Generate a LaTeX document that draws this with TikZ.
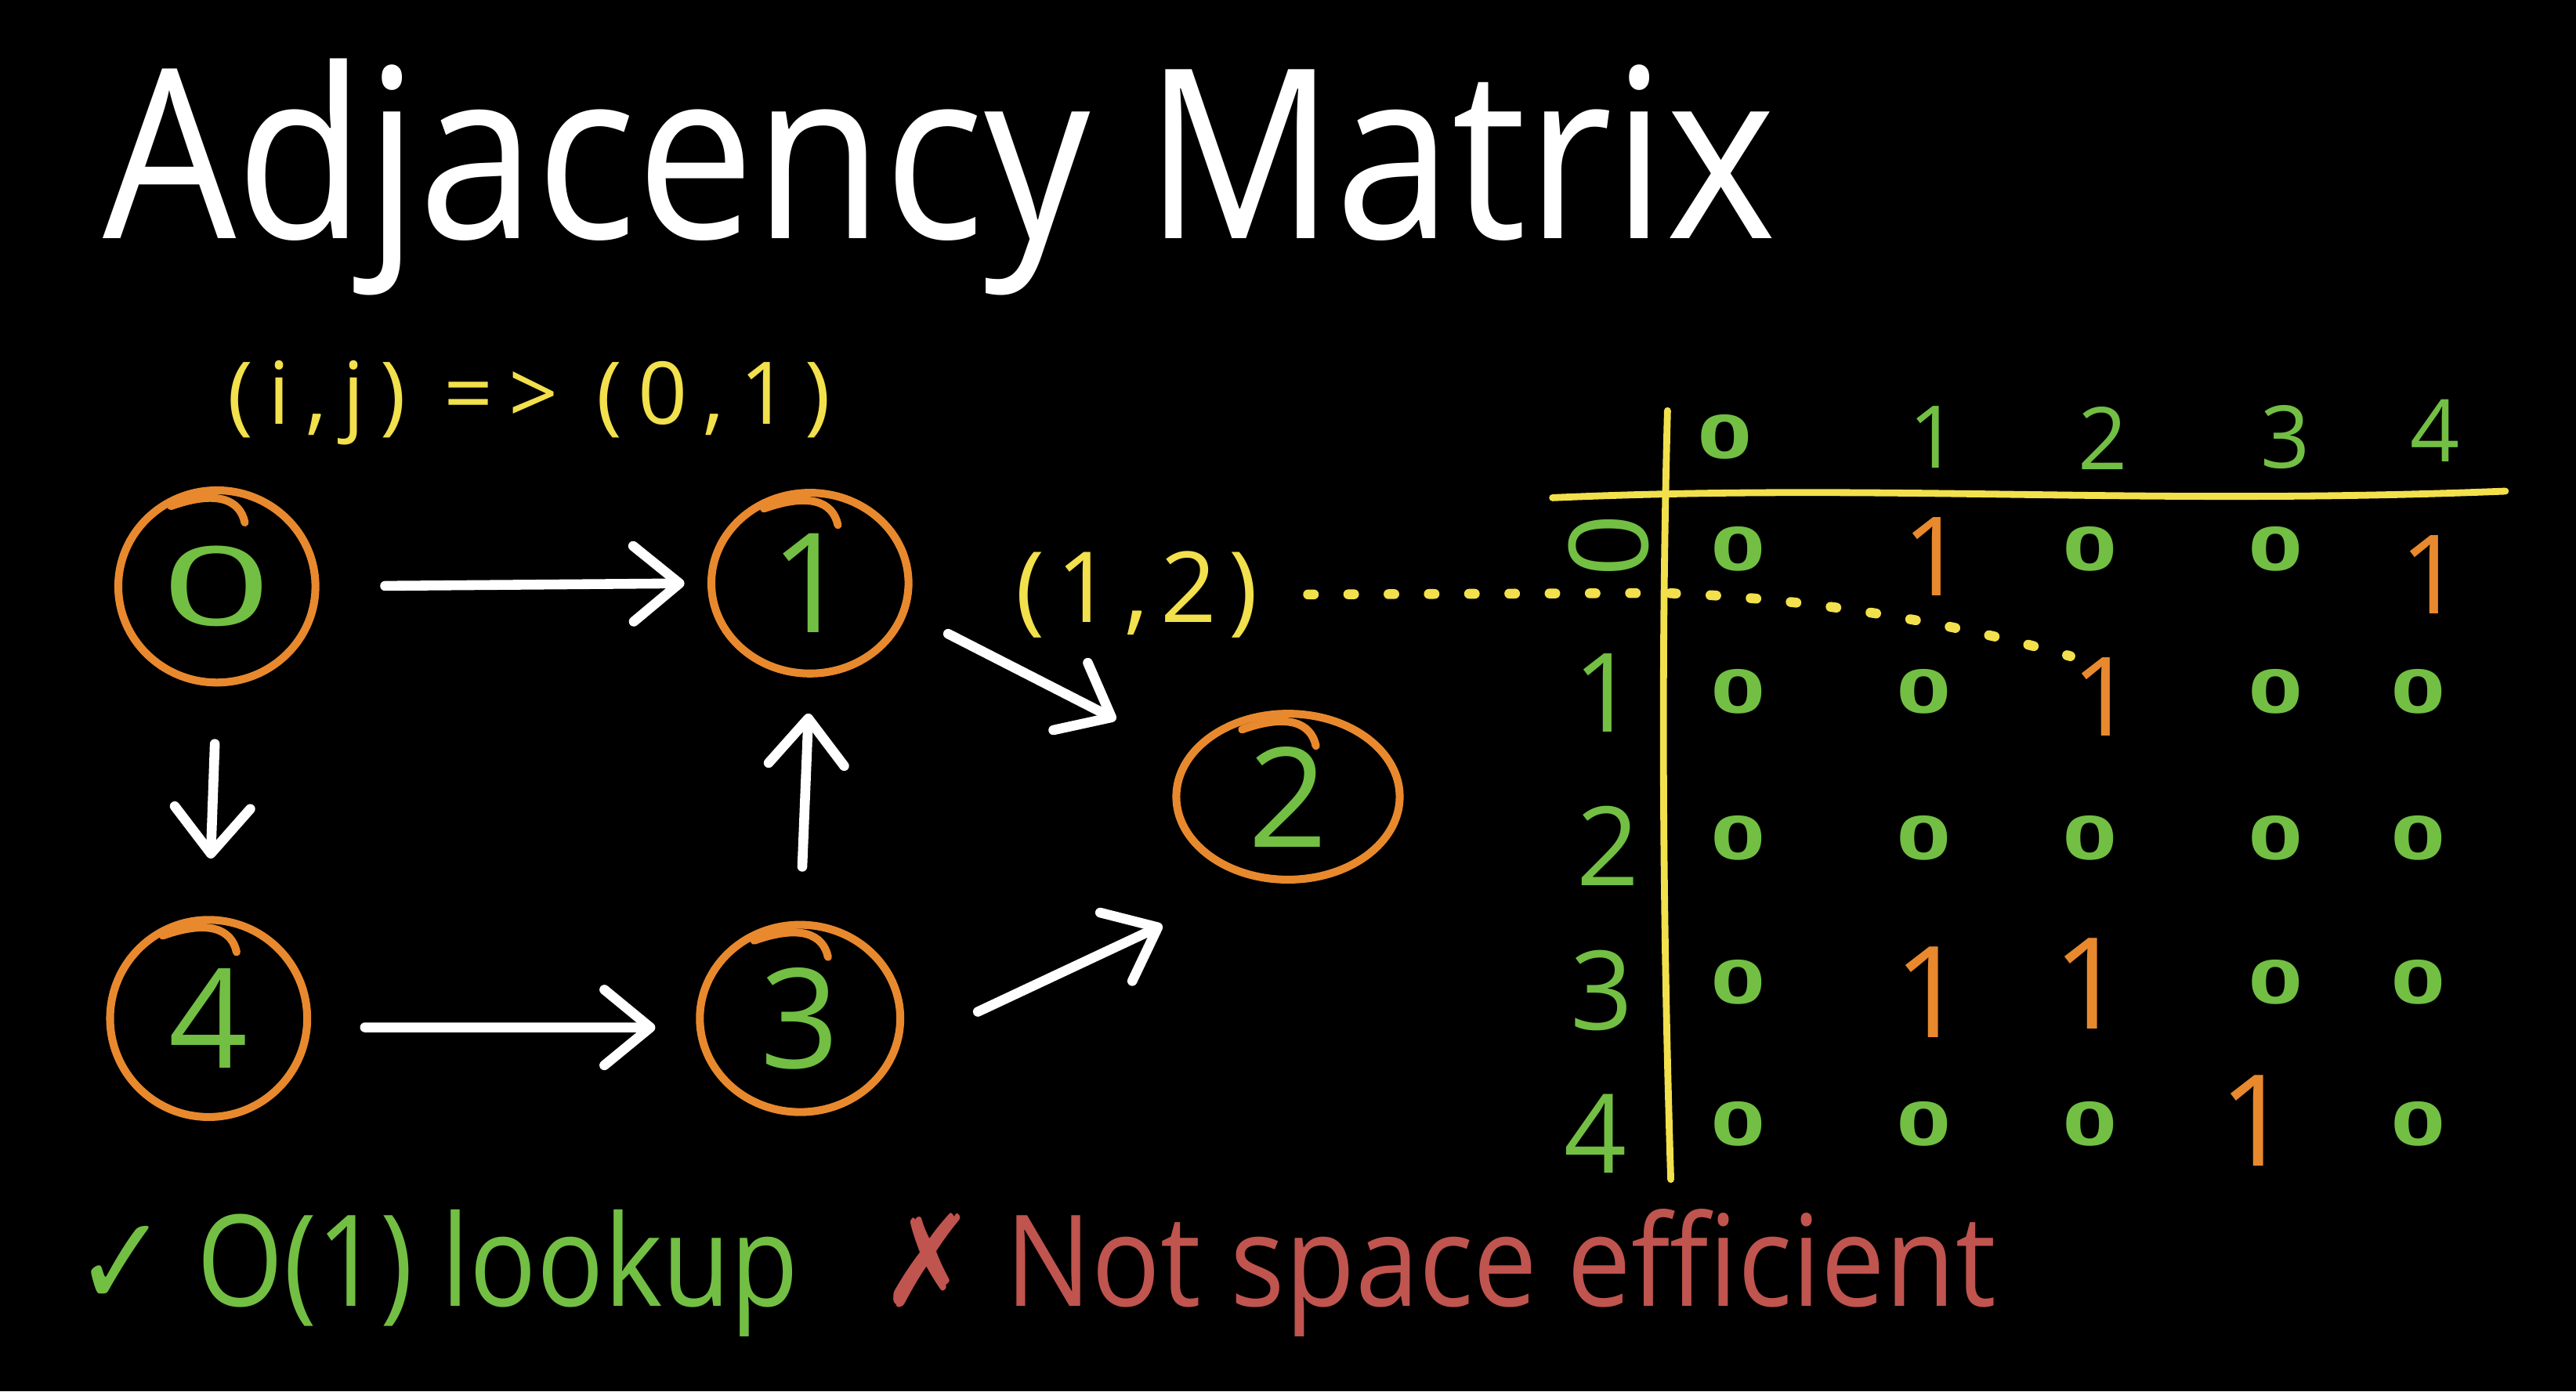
\documentclass[tikz,border=0pt]{standalone}
\usepackage{fontspec}
\setmainfont{Open Sans}
\newfontfamily\symfont{DejaVu Sans}
\usetikzlibrary{shapes.geometric,arrows.meta,calc}
\definecolor{orng}{HTML}{E8892E}
\definecolor{grn}{HTML}{72BF44}
\definecolor{ylw}{HTML}{F2E04C}
\definecolor{rd}{HTML}{C0544F}
\newcommand{\wz}[1]{\scalebox{1.55}[1]{#1}}
\tikzset{
  vert/.style={ellipse, draw=orng, line width=0.48mm, text=grn, inner sep=0pt,
    font=\fontsize{24}{24}\selectfont},
  hook/.style={draw=orng, line width=0.48mm, line cap=round},
  arr/.style={draw=white, line width=0.6mm, line cap=round,
    -{Straight Barb[round,length=2.8mm,width=4.6mm]}},
  yline/.style={draw=ylw, line width=0.42mm, line cap=round},
  dotline/.style={draw=ylw, line width=0.6mm, line cap=round, dash pattern=on 0.35mm off 2.1mm},
  ylbl/.style={text=ylw, inner sep=0pt, font=\fontsize{15}{15}\selectfont\addfontfeatures{LetterSpace=18}},
  zero/.style={text=grn, inner sep=0pt, font=\bfseries\fontsize{10.5}{10.5}\selectfont},
  one/.style={text=orng, inner sep=0pt, font=\fontsize{19}{19}\selectfont},
  bigone/.style={text=orng, inner sep=0pt, font=\fontsize{22}{22}\selectfont},
  colh/.style={text=grn, inner sep=0pt, font=\fontsize{15}{15}\selectfont},
  rowh/.style={text=grn, inner sep=0pt, font=\fontsize{19}{19}\selectfont},
}
\begin{document}
\begin{tikzpicture}[x=0.1mm,y=-0.1mm]
\fill[black] (0,0) rectangle (1568,847);
\useasboundingbox (0,0) rectangle (1568,847);

% title
\node[anchor=base west, inner sep=0pt, text=white, font=\fontsize{41}{41}\selectfont] (title) at (62,145) {\scalebox{0.89}[1]{Adjacency Matrix}};

% labels
\node[ylbl] (ij) at (322,245) {(i,j) => (0,1)};
\node[ylbl, font=\fontsize{17}{17}\selectfont\addfontfeatures{LetterSpace=12}] (lbl12) at (692,362) {(1,2)};

% graph nodes
\node[vert, minimum width=12.0mm, minimum height=11.7mm] (n0) at (132,357) {\raisebox{-3pt}{\fontsize{19}{19}\selectfont\scalebox{1.75}[1]{0}}};
\node[vert, minimum width=12.0mm, minimum height=11.0mm] (n1) at (493,355) {1};
\node[vert, minimum width=13.6mm, minimum height=10.1mm] (n2) at (784,485) {2};
\node[vert, minimum width=12.2mm, minimum height=11.4mm] (n3) at (487,620) {3};
\node[vert, minimum width=12.0mm, minimum height=12.0mm] (n4) at (127,620) {4};

% hooks on the circles
\foreach \n in {n0,n1,n2,n3,n4}{
  \draw[hook] ($(\n.north)+(-28,12)$) .. controls ($(\n.north)+(0,2)$) and ($(\n.north)+(14,8)$) .. ($(\n.north)+(17,22)$);
}

% edges
\draw[arr, shorten <=4mm, shorten >=1.4mm] (n0.east) -- (n1.west);
\draw[arr, shorten <=3.5mm, shorten >=3.5mm] (n0.south) -- (n4.north);
\draw[arr, shorten <=3.3mm, shorten >=2.5mm] (n4.-5) -- (n3.185);
\draw[arr, shorten <=3.3mm, shorten >=2.2mm] (n3.north) -- (n1.south);
\draw[arr, shorten <=2.8mm, shorten >=4.8mm] (n1.-17) -- (n2.158);
\draw[arr, shorten <=5.3mm, shorten >=6.4mm] (n3.-17) -- (n2.250);

% matrix axes
\coordinate (vt) at (1015,250);
\coordinate (vb) at (1017,718);
\coordinate (hl) at (945,303);
\coordinate (hr) at (1525,299);
\draw[yline] (vt) .. controls (1011,400) and (1012,560) .. (vb);
\draw[yline] (hl) .. controls (1150,294) and (1300,308) .. (hr);

% column headers
\node[zero] (c0) at (1050,266) {\wz{0}};
\node[colh] (c1) at (1177,266) {1};
\node[colh] (c2) at (1280,267) {2};
\node[colh] (c3) at (1391,266) {3};
\node[colh] (c4) at (1482,262) {4};

% row headers
\node[rowh, rotate=90] (r0) at (979,332) {0};
\node[rowh] (r1) at (977,422) {1};
\node[rowh] (r2) at (979,515) {2};
\node[rowh] (r3) at (975,603) {3};
\node[rowh] (r4) at (971,690) {4};

% cells
\node[zero] (m00) at (1058,334) {\wz{0}};
\node[one]  (m01) at (1177,339) {1};
\node[zero] (m02) at (1272,334) {\wz{0}};
\node[zero] (m03) at (1385,334) {\wz{0}};
\node[one]  (m04) at (1480,350) {1};

\node[zero] (m10) at (1058,421) {\wz{0}};
\node[zero] (m11) at (1171,421) {\wz{0}};
\node[one]  (m12) at (1280,424) {1};
\node[zero] (m13) at (1385,421) {\wz{0}};
\node[zero] (m14) at (1472,421) {\wz{0}};

\node[zero] (m20) at (1058,510) {\wz{0}};
\node[zero] (m21) at (1171,510) {\wz{0}};
\node[zero] (m22) at (1272,510) {\wz{0}};
\node[zero] (m23) at (1385,510) {\wz{0}};
\node[zero] (m24) at (1472,510) {\wz{0}};

\node[zero] (m30) at (1058,598) {\wz{0}};
\node[bigone] (m31) at (1175,604) {1};
\node[bigone] (m32) at (1272,599) {1};
\node[zero] (m33) at (1385,598) {\wz{0}};
\node[zero] (m34) at (1472,598) {\wz{0}};

\node[zero] (m40) at (1058,684) {\wz{0}};
\node[zero] (m41) at (1171,684) {\wz{0}};
\node[zero] (m42) at (1272,684) {\wz{0}};
\node[bigone] (m43) at (1373,682) {1};
\node[zero] (m44) at (1472,684) {\wz{0}};

% dotted pointer
\coordinate (bend) at (1012,361);
\draw[dotline, shorten <=3mm] (lbl12.east) -- (bend) .. controls (1110,364) and (1200,382) .. (m12.north west);

% bottom notes
\node[anchor=base west, inner sep=0pt, text=grn, font=\fontsize{22}{22}\selectfont] (pro) at (45,795) {\scalebox{0.875}[1]{{\symfont ✓} O(1) lookup}};
\node[anchor=base west, inner sep=0pt, text=rd, font=\fontsize{22}{22}\selectfont] (con) at (535,795) {\scalebox{0.9}[1]{{\symfont ✗} Not space efficient}};
\end{tikzpicture}
\end{document}
